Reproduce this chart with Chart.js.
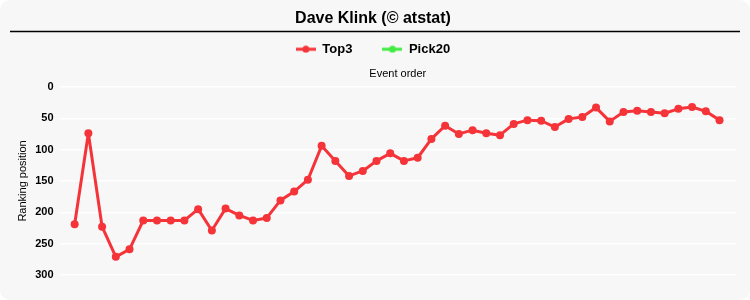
<!DOCTYPE html>
<html>
<head>
<meta charset="utf-8">
<script src="https://cdn.jsdelivr.net/npm/chart.js@4/dist/chart.umd.min.js"></script>
<style>
  html, body { margin: 0; padding: 0; background: #ffffff; }
  #card { width: 750px; height: 300px; background: #f7f7f7; border-radius: 10px; overflow: hidden; }
  canvas { display: block; }
</style>
</head>
<body>
<div id="card"><canvas id="rankChart" width="750" height="300"></canvas></div>
<script>
const events = [1, 2, 3, 4, 5, 6, 7, 8, 9, 10, 11, 12, 13, 14, 15, 16, 17, 18, 19, 20, 21, 22, 23, 24,
  25, 26, 27, 28, 29, 30, 31, 32, 33, 34, 35, 36, 37, 38, 39, 40, 41, 42, 43, 44, 45, 46, 47, 48];
const top3 = [219, 74, 223, 271, 259, 213, 213, 213, 213, 195, 229, 194, 205, 213, 209, 181,
  167, 148, 94, 118, 142, 134, 118, 106, 118, 113, 83, 62, 75, 69, 74, 77,
  59, 53, 54, 64, 51, 48, 33, 55, 40, 38, 40, 42, 35, 32, 39, 53];
const pick20 = [];
const yTicks = [0, 50, 100, 150, 200, 250, 300];

const RED = "#f5343a";
const GREEN = "#44ea44";
const FONT = "'Liberation Sans', Arial, sans-serif";

// legend icon: short line with a dot in the middle
function legendIcon(color) {
  const c = document.createElement("canvas");
  c.width = 20;
  c.height = 8;
  const ctx = c.getContext("2d");
  ctx.strokeStyle = color;
  ctx.lineWidth = 3;
  ctx.beginPath();
  ctx.moveTo(0, 4);
  ctx.lineTo(20, 4);
  ctx.stroke();
  ctx.fillStyle = color;
  ctx.beginPath();
  ctx.arc(10, 4, 3.5, 0, Math.PI * 2);
  ctx.fill();
  return c;
}

const titleRule = {
  id: "titleRule",
  afterDraw(chart) {
    const ctx = chart.ctx;
    ctx.save();
    ctx.strokeStyle = "#000000";
    ctx.lineWidth = 1.5;
    ctx.beginPath();
    ctx.moveTo(10, 31.5);
    ctx.lineTo(740, 31.5);
    ctx.stroke();
    ctx.restore();
  },
};

const toPoints = (values) => values.map((v, i) => ({ x: events[i], y: v }));

new Chart(document.getElementById("rankChart"), {
  type: "line",
  data: {
    datasets: [
      {
        label: "Top3",
        data: toPoints(top3),
        borderColor: RED,
        backgroundColor: RED,
        pointBackgroundColor: RED,
        borderWidth: 3,
        borderJoinStyle: "round",
        borderCapStyle: "round",
        pointRadius: 4,
        pointBorderWidth: 0,
        tension: 0,
      },
      {
        label: "Pick20",
        data: toPoints(pick20),
        borderColor: GREEN,
        backgroundColor: GREEN,
        borderWidth: 3,
        pointRadius: 4,
      },
    ],
  },
  options: {
    responsive: false,
    animation: false,
    layout: { padding: { left: 10, right: 14, top: 0, bottom: 25 } },
    plugins: {
      title: {
        display: true,
        text: "Dave Klink (\u00a9 atstat)",
        color: "#000000",
        font: { family: FONT, size: 16, weight: "bold" },
        padding: { top: 9, bottom: -15.5 },
      },
      legend: {
        display: true,
        position: "top",
        labels: {
          color: "#000000",
          font: { family: FONT, size: 13, weight: "bold" },
          usePointStyle: true,
          pointStyleWidth: 20,
          padding: 30,
          generateLabels(chart) {
            return chart.data.datasets.map((ds, i) => ({
              text: ds.label,
              fontColor: "#000000",
              pointStyle: legendIcon(ds.borderColor),
              hidden: false,
              datasetIndex: i,
              lineWidth: 0,
            }));
          },
        },
      },
      tooltip: { enabled: false },
    },
    scales: {
      x: {
        type: "linear",
        position: "top",
        min: -0.1,
        max: 49.2,
        grid: { display: false, drawTicks: false },
        border: { display: false },
        ticks: { display: false },
        title: {
          display: true,
          text: "Event order",
          color: "#000000",
          font: { family: FONT, size: 11 },
          padding: { top: 2, bottom: 6 },
        },
      },
      y: {
        reverse: true,
        min: 0,
        max: 300,
        afterBuildTicks(scale) {
          scale.ticks = yTicks.map((v) => ({ value: v }));
        },
        grid: { color: "#ffffff", lineWidth: 1.5, drawTicks: false },
        border: { display: false },
        ticks: {
          color: "#000000",
          padding: 6,
          font: { family: FONT, size: 11, weight: "bold" },
        },
        title: {
          display: true,
          text: "Ranking position",
          color: "#000000",
          font: { family: FONT, size: 11 },
          padding: { top: 6, bottom: 0 },
        },
      },
    },
  },
  plugins: [titleRule],
});
</script>
</body>
</html>
